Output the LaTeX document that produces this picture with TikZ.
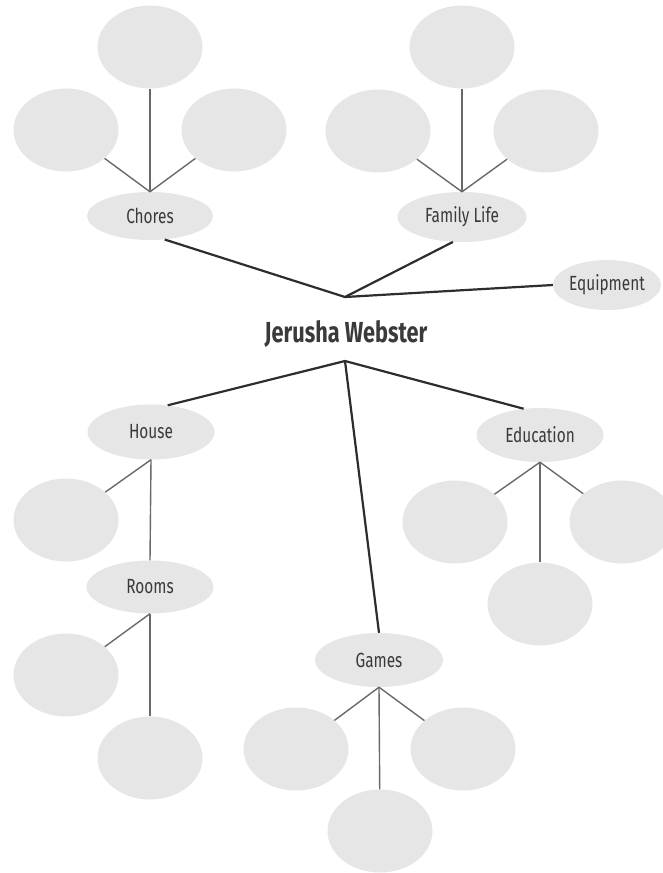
\documentclass[tikz,border=0pt]{standalone}
\usepackage{fontspec}
\setmainfont[FakeStretch=0.75]{Fira Sans}
\usetikzlibrary{shapes.geometric}
\definecolor{bub}{RGB}{230,230,230}
\definecolor{txt}{RGB}{58,58,58}
\definecolor{thinc}{RGB}{105,105,105}
\definecolor{thickc}{RGB}{45,45,45}
\begin{document}
\begin{tikzpicture}[x=1pt,y=-1pt,
  bubble/.style={ellipse,fill=bub,draw=none,minimum width=105pt,minimum height=83pt,inner sep=0pt},
  topic/.style={ellipse,fill=bub,draw=none,minimum width=127pt,minimum height=52pt,inner sep=0pt,text=txt,font=\fontsize{20.5}{24}\selectfont},
  twig/.style={draw=thinc,line width=1.4pt},
  branch/.style={draw=thickc,line width=2.2pt,line join=round}]
\useasboundingbox (0,0) rectangle (663,873);
\clip (0,0) rectangle (663,873);
% topics
\node[topic,minimum width=126pt,minimum height=48pt] (chores) at (150,216) {Chores};
\node[topic,minimum width=129pt,minimum height=50pt] (fam) at (462,217) {Family Life};
\node[topic,minimum width=108pt,minimum height=50pt] (equip) at (607,285) {Equipment};
\node[topic,minimum height=55pt] (house) at (151,432) {House};
\node[topic,minimum height=53pt] (rooms) at (150,587) {Rooms};
\node[topic,minimum width=128pt,minimum height=54pt] (games) at (379,660) {Games};
\node[topic,minimum height=54pt] (edu) at (540,435) {Education};
\node[text=txt,font=\fontsize{29}{34}\selectfont\bfseries] (title) at (346,334) {Jerusha Webster};
% empty bubbles
\node[bubble] (c1) at (150,47) {};
\node[bubble] (c2) at (66,130) {};
\node[bubble] (c3) at (234,130) {};
\node[bubble] (f1) at (462,47) {};
\node[bubble] (f2) at (378,131) {};
\node[bubble] (f3) at (546,131) {};
\node[bubble] (h1) at (66,520) {};
\node[bubble] (r1) at (66,675) {};
\node[bubble] (r2) at (150,758) {};
\node[bubble] (e1) at (455,522) {};
\node[bubble] (e2) at (622,522) {};
\node[bubble] (e3) at (540,604) {};
\node[bubble] (g1) at (296,749) {};
\node[bubble] (g2) at (463,749) {};
\node[bubble] (g3) at (380,831) {};
% hubs
\coordinate (hubT) at (345,297);
\coordinate (hubB) at (345,361);
% thin connectors
\draw[twig] (chores.north) -- (c1);
\draw[twig] (chores.north) -- (c2);
\draw[twig] (chores.north) -- (c3);
\draw[twig] (fam.north) -- (f1);
\draw[twig] (fam.north) -- (f2);
\draw[twig] (fam.north) -- (f3);
\draw[twig] (house.south) -- (h1);
\draw[twig] (house.south) -- (rooms.north);
\draw[twig] (rooms.south) -- (r1);
\draw[twig] (rooms.south) -- (r2);
\draw[twig] (games.south) -- (g1);
\draw[twig] (games.south) -- (g2);
\draw[twig] (games.south) -- (g3);
\draw[twig] (edu.south) -- (e1);
\draw[twig] (edu.south) -- (e2);
\draw[twig] (edu.south) -- (e3);
% main connectors
\draw[branch] (chores.-58) -- (hubT) -- (fam.-110);
\draw[branch] (hubT) -- (equip.west);
\draw[branch] (house.58) -- (hubB) -- (edu.122);
\draw[branch] (hubB) -- (games.north);
\end{tikzpicture}
\end{document}
